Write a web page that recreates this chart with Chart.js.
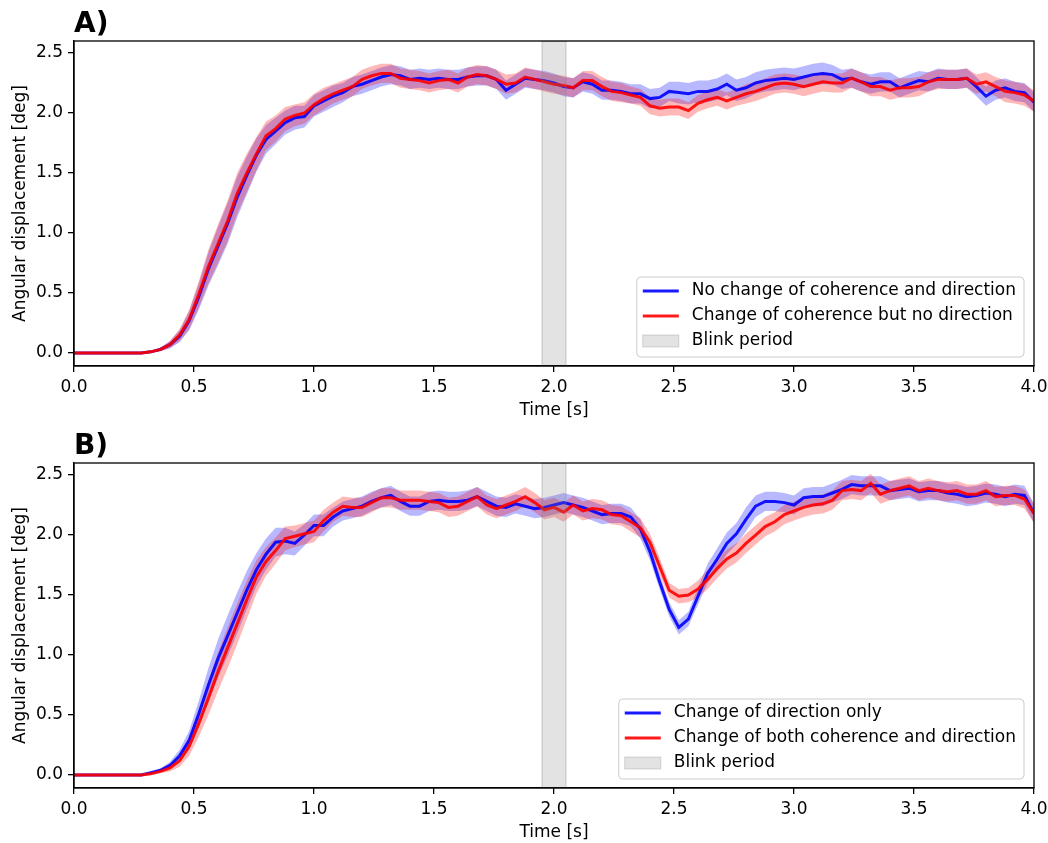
<!DOCTYPE html>
<html>
<head>
<meta charset="utf-8">
<script src="https://cdn.jsdelivr.net/npm/chart.js@4.4.1/dist/chart.umd.min.js"></script>
<style>
  html, body { margin: 0; padding: 0; background: #fff; }
  .panel { position: relative; width: 1048px; }
  #panelA { height: 421px; }
  #panelB { height: 422px; }
</style>
</head>
<body>
<div class="panel" id="panelA"><canvas id="chartA"></canvas></div>
<div class="panel" id="panelB"><canvas id="chartB"></canvas></div>
<script>
// sample grid: one value every 0.04 s, 0 .. 4 s
const sampleStep = 0.04;
const times = Array.from({ length: 101 }, (_, i) => +(i * sampleStep).toFixed(2));

const xTicks = [0, 0.5, 1, 1.5, 2, 2.5, 3, 3.5, 4];
const yTicks = [0, 0.5, 1, 1.5, 2, 2.5];
const yMin = -0.108, yMax = 2.6;
const blinkStart = 1.95, blinkEnd = 2.05;

const labelsA = ['No change of coherence and direction', 'Change of coherence but no direction', 'Blink period'];
const labelsB = ['Change of direction only', 'Change of both coherence and direction', 'Blink period'];

// panel A
const aBlueMean = [
  0, 0, 0, 0, 0, 0, 0, 0, 0.01, 0.03,
  0.07, 0.14, 0.27, 0.47, 0.70, 0.89, 1.08, 1.30, 1.48, 1.65,
  1.78, 1.85, 1.92, 1.96, 1.97, 2.06, 2.10, 2.14, 2.17, 2.22,
  2.24, 2.27, 2.30, 2.32, 2.31, 2.28, 2.29, 2.28, 2.29, 2.28,
  2.28, 2.30, 2.31, 2.31, 2.28, 2.19, 2.24, 2.29, 2.28, 2.27,
  2.25, 2.22, 2.21, 2.26, 2.24, 2.19, 2.19, 2.18, 2.16, 2.16,
  2.12, 2.13, 2.18, 2.17, 2.16, 2.18, 2.18, 2.20, 2.24, 2.19,
  2.21, 2.25, 2.27, 2.28, 2.29, 2.28, 2.30, 2.32, 2.33, 2.32,
  2.28, 2.29, 2.26, 2.24, 2.26, 2.26, 2.21, 2.24, 2.27, 2.26,
  2.29, 2.28, 2.28, 2.29, 2.22, 2.14, 2.19, 2.21, 2.18, 2.17,
  2.09
];
const aBlueSem = [
  0, 0, 0, 0, 0, 0, 0, 0, 0.005, 0.015,
  0.03, 0.05, 0.08, 0.11, 0.14, 0.16, 0.17, 0.17, 0.16, 0.14,
  0.12, 0.11, 0.1, 0.1, 0.09, 0.09, 0.09, 0.09, 0.08, 0.08,
  0.08, 0.08, 0.08, 0.08, 0.08, 0.08, 0.08, 0.08, 0.08, 0.08,
  0.08, 0.08, 0.08, 0.08, 0.08, 0.08, 0.08, 0.08, 0.08, 0.08,
  0.08, 0.08, 0.08, 0.08, 0.08, 0.08, 0.08, 0.08, 0.08, 0.08,
  0.08, 0.08, 0.08, 0.09, 0.09, 0.09, 0.09, 0.09, 0.09, 0.09,
  0.09, 0.09, 0.09, 0.09, 0.09, 0.09, 0.09, 0.09, 0.09, 0.08,
  0.08, 0.08, 0.08, 0.08, 0.08, 0.08, 0.08, 0.08, 0.08, 0.08,
  0.08, 0.08, 0.08, 0.08, 0.08, 0.08, 0.08, 0.08, 0.08, 0.08,
  0.08
];
const aRedMean = [
  0, 0, 0, 0, 0, 0, 0, 0, 0.01, 0.03,
  0.07, 0.15, 0.28, 0.49, 0.72, 0.91, 1.10, 1.33, 1.50, 1.66,
  1.81, 1.87, 1.95, 1.98, 2.00, 2.07, 2.12, 2.16, 2.19, 2.22,
  2.28, 2.31, 2.33, 2.33, 2.29, 2.28, 2.27, 2.25, 2.27, 2.28,
  2.25, 2.30, 2.32, 2.31, 2.28, 2.24, 2.25, 2.30, 2.28, 2.26,
  2.24, 2.23, 2.21, 2.27, 2.27, 2.22, 2.18, 2.17, 2.15, 2.13,
  2.06, 2.04, 2.05, 2.05, 2.02, 2.08, 2.11, 2.13, 2.10, 2.13,
  2.16, 2.18, 2.21, 2.24, 2.25, 2.24, 2.22, 2.24, 2.26, 2.25,
  2.25, 2.29, 2.26, 2.22, 2.22, 2.19, 2.21, 2.21, 2.22, 2.26,
  2.28, 2.28, 2.28, 2.29, 2.24, 2.26, 2.22, 2.18, 2.17, 2.15,
  2.10
];
const aRedSem = [
  0, 0, 0, 0, 0, 0, 0, 0, 0.005, 0.015,
  0.03, 0.05, 0.08, 0.11, 0.14, 0.16, 0.17, 0.17, 0.16, 0.14,
  0.12, 0.11, 0.1, 0.09, 0.09, 0.09, 0.09, 0.08, 0.08, 0.08,
  0.08, 0.08, 0.08, 0.08, 0.08, 0.08, 0.08, 0.08, 0.08, 0.08,
  0.08, 0.08, 0.08, 0.08, 0.08, 0.08, 0.08, 0.08, 0.08, 0.08,
  0.08, 0.08, 0.08, 0.08, 0.08, 0.08, 0.08, 0.08, 0.07, 0.07,
  0.07, 0.07, 0.07, 0.07, 0.07, 0.07, 0.07, 0.07, 0.07, 0.07,
  0.08, 0.08, 0.08, 0.08, 0.08, 0.08, 0.08, 0.08, 0.08, 0.08,
  0.08, 0.08, 0.08, 0.08, 0.08, 0.08, 0.08, 0.08, 0.08, 0.08,
  0.08, 0.08, 0.08, 0.08, 0.08, 0.08, 0.08, 0.09, 0.09, 0.09,
  0.09
];

// panel B
const bBlueMean = [
  0, 0, 0, 0, 0, 0, 0, 0, 0.02, 0.04,
  0.08, 0.16, 0.29, 0.51, 0.75, 0.97, 1.16, 1.35, 1.54, 1.71,
  1.84, 1.94, 1.95, 1.93, 2.00, 2.08, 2.08, 2.15, 2.20, 2.22,
  2.24, 2.28, 2.31, 2.33, 2.28, 2.24, 2.24, 2.28, 2.29, 2.28,
  2.28, 2.29, 2.32, 2.28, 2.24, 2.23, 2.26, 2.24, 2.22, 2.23,
  2.25, 2.27, 2.25, 2.23, 2.20, 2.17, 2.18, 2.18, 2.15, 2.05,
  1.86, 1.61, 1.38, 1.23, 1.30, 1.49, 1.68, 1.80, 1.93, 2.01,
  2.13, 2.24, 2.28, 2.28, 2.27, 2.25, 2.31, 2.32, 2.32, 2.35,
  2.38, 2.42, 2.41, 2.41, 2.41, 2.37, 2.38, 2.39, 2.36, 2.37,
  2.37, 2.35, 2.34, 2.32, 2.33, 2.35, 2.34, 2.32, 2.34, 2.33,
  2.18
];
const bBlueSem = [
  0, 0, 0, 0, 0, 0, 0, 0, 0.005, 0.015,
  0.03, 0.05, 0.08, 0.11, 0.14, 0.16, 0.17, 0.17, 0.16, 0.14,
  0.13, 0.12, 0.11, 0.1, 0.09, 0.09, 0.09, 0.08, 0.08, 0.08,
  0.08, 0.08, 0.08, 0.08, 0.08, 0.08, 0.08, 0.08, 0.08, 0.08,
  0.08, 0.08, 0.08, 0.08, 0.08, 0.08, 0.08, 0.08, 0.08, 0.08,
  0.08, 0.08, 0.08, 0.08, 0.08, 0.08, 0.08, 0.08, 0.08, 0.08,
  0.07, 0.06, 0.06, 0.06, 0.06, 0.07, 0.08, 0.09, 0.09, 0.09,
  0.1, 0.09, 0.08, 0.08, 0.08, 0.08, 0.08, 0.08, 0.08, 0.08,
  0.08, 0.08, 0.08, 0.08, 0.08, 0.08, 0.08, 0.08, 0.08, 0.08,
  0.08, 0.08, 0.08, 0.08, 0.08, 0.08, 0.08, 0.08, 0.08, 0.08,
  0.08
];
const bRedMean = [
  0, 0, 0, 0, 0, 0, 0, 0, 0.01, 0.03,
  0.06, 0.12, 0.24, 0.43, 0.64, 0.86, 1.06, 1.26, 1.46, 1.65,
  1.78, 1.87, 1.97, 1.99, 2.01, 2.03, 2.12, 2.19, 2.24, 2.23,
  2.23, 2.27, 2.31, 2.31, 2.29, 2.29, 2.29, 2.28, 2.27, 2.23,
  2.24, 2.28, 2.32, 2.25, 2.22, 2.25, 2.28, 2.32, 2.27, 2.21,
  2.23, 2.19, 2.25, 2.20, 2.22, 2.21, 2.17, 2.16, 2.11, 2.06,
  1.94, 1.74, 1.54, 1.49, 1.50, 1.55, 1.63, 1.72, 1.80, 1.85,
  1.93, 2.00, 2.07, 2.11, 2.17, 2.20, 2.23, 2.25, 2.26, 2.29,
  2.37, 2.38, 2.37, 2.43, 2.34, 2.37, 2.39, 2.41, 2.37, 2.39,
  2.37, 2.36, 2.37, 2.34, 2.34, 2.37, 2.32, 2.33, 2.33, 2.30,
  2.18
];
const bRedSem = [
  0, 0, 0, 0, 0, 0, 0, 0, 0.005, 0.015,
  0.03, 0.05, 0.08, 0.11, 0.14, 0.16, 0.17, 0.17, 0.16, 0.14,
  0.12, 0.11, 0.1, 0.09, 0.09, 0.09, 0.09, 0.08, 0.08, 0.08,
  0.08, 0.08, 0.08, 0.08, 0.08, 0.08, 0.08, 0.08, 0.08, 0.08,
  0.08, 0.08, 0.08, 0.08, 0.08, 0.08, 0.08, 0.08, 0.08, 0.08,
  0.08, 0.08, 0.08, 0.08, 0.08, 0.08, 0.08, 0.08, 0.08, 0.08,
  0.07, 0.07, 0.06, 0.06, 0.06, 0.07, 0.08, 0.08, 0.08, 0.08,
  0.08, 0.08, 0.08, 0.08, 0.08, 0.08, 0.08, 0.08, 0.08, 0.08,
  0.08, 0.08, 0.08, 0.08, 0.08, 0.08, 0.08, 0.08, 0.08, 0.08,
  0.08, 0.08, 0.08, 0.08, 0.08, 0.08, 0.08, 0.08, 0.08, 0.08,
  0.08
];

const BLUE = 'rgba(0,0,255,0.9)';
const RED = 'rgba(255,0,0,0.9)';
const BLUE_BAND = 'rgba(0,0,255,0.28)';
const RED_BAND = 'rgba(255,0,0,0.28)';
const BLINK_FILL = 'rgba(128,128,128,0.22)';
const BLINK_EDGE = 'rgba(128,128,128,0.3)';

Chart.defaults.font.family = "'DejaVu Sans', sans-serif";
Chart.defaults.font.size = 17;
Chart.defaults.color = '#000';

function pts(mean, sem, sign) {
  return times.map((t, i) => ({ x: t, y: mean[i] + sign * sem[i] }));
}

function bandSet(data, fill, color, order) {
  return { data, fill, backgroundColor: color, borderWidth: 0, borderColor: 'transparent', pointRadius: 0, order };
}

function buildDatasets(blueMean, blueSem, redMean, redSem) {
  return [
    bandSet(pts(blueMean, blueSem, 1), '+1', BLUE_BAND, 4),
    bandSet(pts(blueMean, blueSem, -1), false, BLUE_BAND, 4),
    bandSet(pts(redMean, redSem, 1), '+1', RED_BAND, 3),
    bandSet(pts(redMean, redSem, -1), false, RED_BAND, 3),
    { data: pts(blueMean, blueSem, 0), borderColor: BLUE, borderWidth: 3, pointRadius: 0, fill: false, order: 2 },
    { data: pts(redMean, redSem, 0), borderColor: RED, borderWidth: 3, pointRadius: 0, fill: false, order: 1 },
    {
      data: [{ x: blinkStart, y: yMin }, { x: blinkStart, y: yMax }, { x: blinkEnd, y: yMax }, { x: blinkEnd, y: yMin }],
      fill: 'start', backgroundColor: BLINK_FILL, borderColor: BLINK_EDGE, borderWidth: 1.3, pointRadius: 0, order: 0
    }
  ];
}

// spines, panel letter and matplotlib-like legend
const decorPlugin = {
  id: 'decor',
  afterDraw(chart, args, opts) {
    const { ctx, chartArea: a } = chart;
    ctx.save();
    ctx.strokeStyle = '#000';
    ctx.lineWidth = 1.3;
    ctx.strokeRect(a.left, a.top, a.right - a.left, a.bottom - a.top);

    ctx.fillStyle = '#000';
    ctx.font = "bold 28px 'DejaVu Sans'";
    ctx.textBaseline = 'alphabetic';
    ctx.textAlign = 'left';
    ctx.fillText(opts.panel, a.left, a.top - 9);

    ctx.font = "17px 'DejaVu Sans'";
    const textW = Math.max(...opts.labels.map(l => ctx.measureText(l).width));
    const w = 55 + textW + 8, h = 80;
    const x0 = a.right - 10 - w, y0 = a.bottom - 9 - h, r = 4;
    ctx.beginPath();
    ctx.moveTo(x0 + r, y0);
    ctx.lineTo(x0 + w - r, y0);
    ctx.arcTo(x0 + w, y0, x0 + w, y0 + r, r);
    ctx.lineTo(x0 + w, y0 + h - r);
    ctx.arcTo(x0 + w, y0 + h, x0 + w - r, y0 + h, r);
    ctx.lineTo(x0 + r, y0 + h);
    ctx.arcTo(x0, y0 + h, x0, y0 + h - r, r);
    ctx.lineTo(x0, y0 + r);
    ctx.arcTo(x0, y0, x0 + r, y0, r);
    ctx.closePath();
    ctx.fillStyle = 'rgba(255,255,255,0.8)';
    ctx.fill();
    ctx.strokeStyle = '#cccccc';
    ctx.lineWidth = 1;
    ctx.stroke();

    const colors = [BLUE, RED];
    opts.labels.forEach((label, i) => {
      const cy = y0 + 14 + i * 25;
      if (i < 2) {
        ctx.beginPath();
        ctx.moveTo(x0 + 6, cy);
        ctx.lineTo(x0 + 42, cy);
        ctx.strokeStyle = colors[i];
        ctx.lineWidth = 3;
        ctx.stroke();
      } else {
        ctx.fillStyle = BLINK_FILL;
        ctx.fillRect(x0 + 6, cy - 6, 36, 12);
        ctx.strokeStyle = BLINK_EDGE;
        ctx.lineWidth = 1;
        ctx.strokeRect(x0 + 6, cy - 6, 36, 12);
      }
      ctx.fillStyle = '#000';
      ctx.textBaseline = 'middle';
      ctx.fillText(label, x0 + 55, cy);
    });
    ctx.restore();
  }
};

function axisGrid() {
  return { display: true, drawOnChartArea: false, drawTicks: true, tickLength: 6, color: '#000', lineWidth: 1.3 };
}

function makeChart(id, panel, labels, topPad, blueMean, blueSem, redMean, redSem) {
  return new Chart(document.getElementById(id).getContext('2d'), {
    type: 'line',
    data: { datasets: buildDatasets(blueMean, blueSem, redMean, redSem) },
    options: {
      responsive: true,
      maintainAspectRatio: false,
      animation: false,
      devicePixelRatio: 1,
      events: [],
      layout: { padding: { top: topPad, right: 14, bottom: 0, left: 0 } },
      plugins: {
        legend: { display: false },
        tooltip: { enabled: false },
        decor: { panel, labels }
      },
      scales: {
        x: {
          type: 'linear', min: 0, max: 4,
          afterBuildTicks: s => { s.ticks = xTicks.map(v => ({ value: v })); },
          afterFit: s => { s.height = 55; s.paddingLeft = 0; s.paddingRight = 0; },
          ticks: { padding: 5, autoSkip: false, maxRotation: 0, callback: v => v.toFixed(1) },
          grid: axisGrid(),
          border: { display: true, color: '#000', width: 1.3 },
          title: { display: true, text: 'Time [s]', padding: { top: 0, bottom: 0 } }
        },
        y: {
          type: 'linear', min: yMin, max: yMax,
          afterBuildTicks: s => { s.ticks = yTicks.map(v => ({ value: v })); },
          afterFit: s => { s.width = 74; s.paddingTop = 0; s.paddingBottom = 0; },
          ticks: { padding: 5, callback: v => v.toFixed(1) },
          grid: axisGrid(),
          border: { display: true, color: '#000', width: 1.3 },
          title: { display: true, text: 'Angular displacement [deg]', padding: { top: 10, bottom: 0 } }
        }
      }
    },
    plugins: [decorPlugin]
  });
}

makeChart('chartA', 'A)', labelsA, 41, aBlueMean, aBlueSem, aRedMean, aRedSem);
makeChart('chartB', 'B)', labelsB, 42, bBlueMean, bBlueSem, bRedMean, bRedSem);
</script>
</body>
</html>
